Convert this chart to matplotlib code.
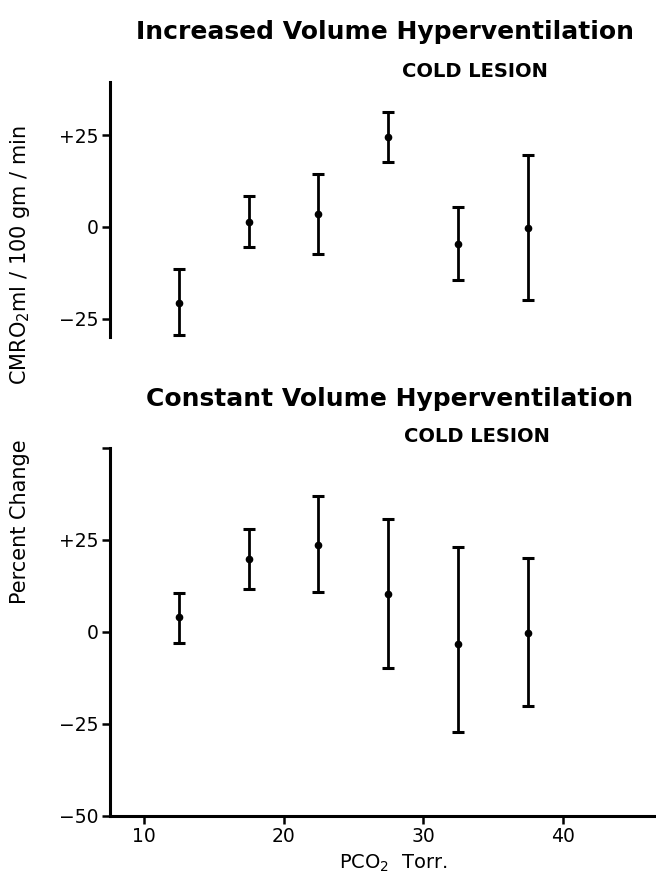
import numpy as np
import matplotlib
matplotlib.use("Agg")
import matplotlib.pyplot as plt

# PCO2 groups (Torr), midpoints of 5-torr bins
pco2 = [12.5, 17.5, 22.5, 27.5, 32.5, 37.5]

# Increased volume hyperventilation, cold lesion (% change CMRO2)
inc_mean = [-20.6, 1.3, 3.4, 24.4, -4.7, -0.2]
inc_hi = [-11.4, 8.4, 14.4, 31.3, 5.4, 19.7]
inc_lo = [-29.4, -5.4, -7.4, 17.7, -14.4, -20.0]

# Constant volume hyperventilation, cold lesion
con_mean = [4.0, 19.8, 23.6, 10.3, -3.2, -0.2]
con_hi = [10.6, 28.1, 36.9, 30.8, 23.1, 20.0]
con_lo = [-3.1, 11.7, 10.8, -9.8, -27.3, -20.0]

xticks = [10, 20, 30, 40]

plt.rcParams['font.family'] = 'DejaVu Sans'

fig = plt.figure(figsize=(6.56, 8.88), dpi=100)
ax1 = fig.add_axes([0.1677, 0.6205, 0.8323, 0.2872])
ax2 = fig.add_axes([0.1677, 0.0811, 0.8323, 0.4144])


def draw(ax, mean, lo, hi):
    mean = np.array(mean)
    yerr = [mean - np.array(lo), np.array(hi) - mean]
    ax.errorbar(pco2, mean, yerr=yerr, fmt='o', color='black', ms=4.5,
                elinewidth=2.0, capsize=4.5, capthick=2.2)
    ax.set_xlim(7.56, 46.7)
    for s in ['top', 'right']:
        ax.spines[s].set_visible(False)
    ax.spines['left'].set_linewidth(2.2)
    ax.spines['bottom'].set_linewidth(2.2)
    ax.tick_params(axis='both', direction='out', length=6, width=1.8,
                   labelsize=13.5, pad=2)


draw(ax1, inc_mean, inc_lo, inc_hi)
ax1.set_ylim(-30, 39.5)
ax1.set_yticks([-25, 0, 25])
ax1.set_yticklabels(['\u221225', '0', '+25'])
ax1.spines['bottom'].set_visible(False)
ax1.set_xticks([])

draw(ax2, con_mean, con_lo, con_hi)
ax2.set_ylim(-50, 50)
ax2.set_yticks([-50, -25, 0, 25, 50])
ax2.set_yticklabels(['\u221250', '\u221225', '0', '+25', ''])
ax2.set_xticks(xticks)
ax2.set_xticklabels([str(t) for t in xticks])

fig.text(0.587, 0.964, 'Increased Volume Hyperventilation', fontsize=18,
         fontweight='bold', ha='center', va='center')
fig.text(0.724, 0.919, 'COLD LESION', fontsize=14, fontweight='bold',
         ha='center', va='center')
fig.text(0.594, 0.551, 'Constant Volume Hyperventilation', fontsize=18,
         fontweight='bold', ha='center', va='center')
fig.text(0.727, 0.508, 'COLD LESION', fontsize=14, fontweight='bold',
         ha='center', va='center')

fig.text(0.031, 0.713, 'CMRO$_2$ml / 100 gm / min', fontsize=15, rotation=90,
         ha='center', va='center')
fig.text(0.031, 0.412, 'Percent Change', fontsize=15, rotation=90,
         ha='center', va='center')
fig.text(0.60, 0.028, 'PCO$_2$  Torr.', fontsize=14, ha='center', va='center')

fig.savefig('out.png', dpi=100)
